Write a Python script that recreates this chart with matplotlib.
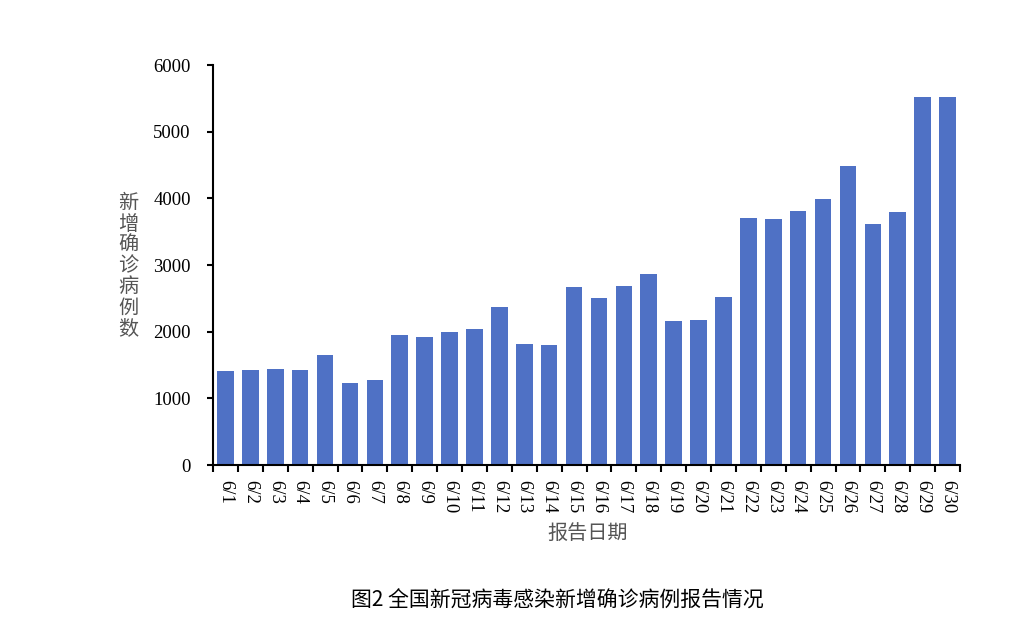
import numpy as np
import matplotlib
matplotlib.use("Agg")
import matplotlib.pyplot as plt
from matplotlib.ticker import FixedLocator

# 报告日期与新增确诊病例数
dates = ["6/%d" % d for d in range(1, 31)]
cases = [1417, 1432, 1447, 1432, 1652, 1233, 1277, 1946, 1916, 1991,
         2041, 2370, 1821, 1806, 2665, 2510, 2680, 2864, 2166, 2181,
         2525, 3708, 3693, 3817, 3987, 4486, 3618, 3802, 5514, 5514]
yticks = [0, 1000, 2000, 3000, 4000, 5000, 6000]

serif = ["Liberation Serif", "DejaVu Serif"]
cjk = ["Noto Sans CJK SC", "DejaVu Sans"]

fig = plt.figure(figsize=(10.24, 6.18), dpi=100)
ax = fig.add_axes([213/1024, 1-465/618, (960-213)/1024, 400/618])

x = np.arange(len(dates))
ax.bar(x, cases, width=0.67, color="#4F71C5", zorder=2)

ax.set_xlim(-0.5, len(dates) - 0.5)
ax.set_ylim(0, 6000)
ax.set_yticks(yticks)
ax.set_yticklabels([str(v) for v in yticks], fontfamily=serif, fontsize=13.5)

# 标签放在柱中间，刻度线放在柱之间
ax.set_xticks(x)
ax.set_xticklabels(dates, rotation=-90, fontfamily=serif, fontsize=13.5)
ax.xaxis.set_minor_locator(FixedLocator(np.arange(-0.5, len(dates), 1.0)))
ax.tick_params(axis="x", which="major", length=0, pad=11)
ax.tick_params(axis="x", which="minor", length=5, width=1.5, direction="out")
ax.tick_params(axis="y", length=4, width=1.5, direction="out", pad=12)

for s in ["top", "right"]:
    ax.spines[s].set_visible(False)
ax.spines["left"].set_linewidth(1.5)
ax.spines["bottom"].set_linewidth(1.5)

fig.text(128/1024, 1-266/618, "\n".join("新增确诊病例数"), ha="center", va="center",
         family=cjk, fontsize=14.5, color="#555555", linespacing=1.0)
fig.text(588/1024, 1-533/618, "报告日期", ha="center", va="center",
         family=cjk, fontsize=14.5, color="#555555")
fig.text(557/1024, 1-601/618, "图2 全国新冠病毒感染新增确诊病例报告情况", ha="center",
         va="center", family=cjk, fontsize=15, fontweight="medium", color="black")

fig.savefig("out.png", dpi=100)
